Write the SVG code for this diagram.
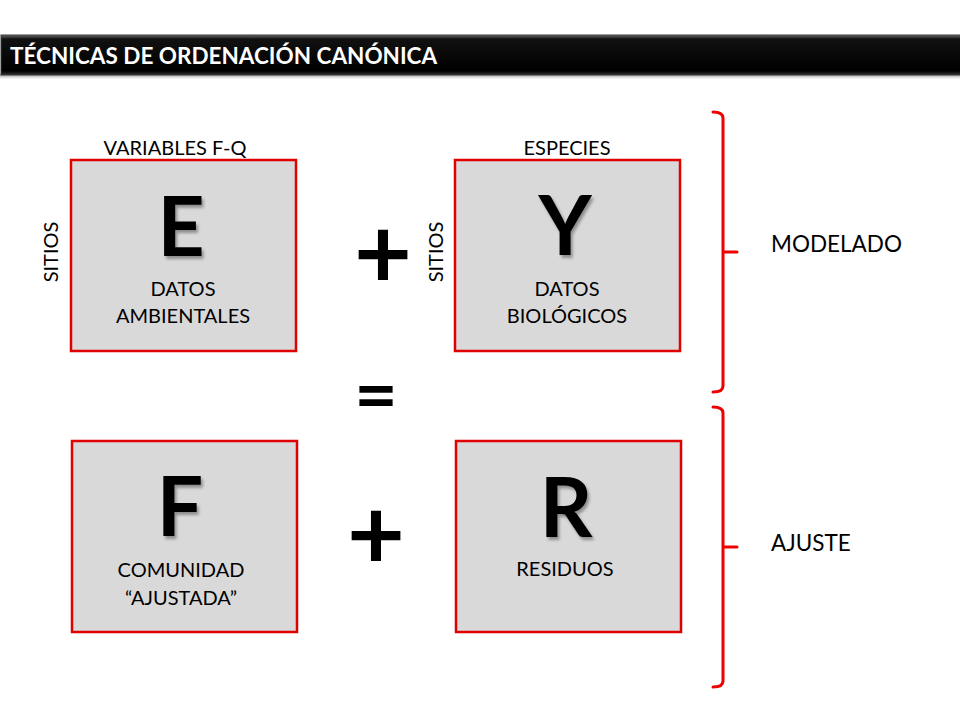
<svg xmlns="http://www.w3.org/2000/svg" width="960" height="720" viewBox="0 0 960 720">
  <defs>
    <filter id="shadow" x="-20%" y="-20%" width="150%" height="150%">
      <feDropShadow dx="2" dy="3" stdDeviation="1.5" flood-color="#000" flood-opacity="0.35"/>
    </filter>
    <linearGradient id="barEdge" x1="0" y1="0" x2="0" y2="1">
      <stop offset="0" stop-color="#6a6a6a"/>
      <stop offset="0.1" stop-color="#111"/>
      <stop offset="0.9" stop-color="#000"/>
      <stop offset="1" stop-color="#333"/>
    </linearGradient>
    <linearGradient id="barShadow" x1="0" y1="0" x2="0" y2="1">
      <stop offset="0" stop-color="#999"/>
      <stop offset="1" stop-color="#fff"/>
    </linearGradient>
  </defs>
  <style>
    .box { fill: #d9d9d9; stroke: #e00000; stroke-width: 2.5; }
    .big { font-family: Lato, "Liberation Sans", sans-serif; font-weight: 700; font-size: 82px; fill: #000; text-anchor: middle; }
    .lbl { font-family: Lato, "Liberation Sans", sans-serif; font-size: 20px; fill: #000; text-anchor: middle; }
    .side { font-family: Lato, "Liberation Sans", sans-serif; font-size: 22.5px; fill: #000; }
    .op { font-family: Lato, "Liberation Sans", sans-serif; font-weight: 700; font-size: 100px; fill: #000; text-anchor: middle; }
    .eq { font-family: Lato, "Liberation Sans", sans-serif; font-weight: 700; font-size: 75px; fill: #000; text-anchor: middle; }
    .title { font-family: Lato, "Liberation Sans", sans-serif; font-weight: 700; font-size: 22.5px; fill: #fff; }
    .brace { fill: none; stroke: #ee0000; stroke-width: 3; stroke-linejoin: round; stroke-linecap: round; }
  </style>

  <rect width="960" height="720" fill="#fff"/>

  <g id="title-bar">
    <rect x="0" y="74" width="962" height="5" fill="url(#barShadow)"/>
    <rect x="1" y="35" width="962" height="40" fill="url(#barEdge)" stroke="#3a3a3a" stroke-width="1"/>
    <text class="title" x="10" y="64">TÉCNICAS DE ORDENACIÓN CANÓNICA</text>
  </g>

  <g id="node-E">
    <text class="lbl" x="175" y="155">VARIABLES F-Q</text>
    <text class="lbl" transform="translate(58,252) rotate(-90)">SITIOS</text>
    <rect class="box" x="71" y="160" width="225" height="191"/>
    <text class="big" x="181" y="256" filter="url(#shadow)">E</text>
    <text class="lbl" x="183" y="296">DATOS</text>
    <text class="lbl" x="183" y="323">AMBIENTALES</text>
  </g>

  <g id="node-Y">
    <text class="lbl" x="567" y="155">ESPECIES</text>
    <text class="lbl" transform="translate(443,252) rotate(-90)">SITIOS</text>
    <rect class="box" x="455" y="160" width="225" height="191"/>
    <text class="big" x="565" y="255" filter="url(#shadow)">Y</text>
    <text class="lbl" x="567" y="296">DATOS</text>
    <text class="lbl" x="567" y="323">BIOLÓGICOS</text>
  </g>

  <g id="node-F">
    <rect class="box" x="72" y="441" width="225" height="191"/>
    <text class="big" x="180" y="536" filter="url(#shadow)">F</text>
    <text class="lbl" x="181" y="577">COMUNIDAD</text>
    <text class="lbl" x="181" y="605">“AJUSTADA”</text>
  </g>

  <g id="node-R">
    <rect class="box" x="456" y="441" width="225" height="191"/>
    <text class="big" x="566" y="537" filter="url(#shadow)">R</text>
    <text class="lbl" x="565" y="576">RESIDUOS</text>
  </g>

  <g id="operators">
    <text class="op" x="383" y="288">+</text>
    <text class="eq" x="376" y="421">=</text>
    <text class="op" x="376" y="569">+</text>
  </g>

  <g id="connectors">
    <path class="brace" d="M713,112 Q723,112 723,118 L723,252 M723,252 L737,252 M723,252 L723,386 Q723,392 713,392"/>
    <path class="brace" d="M713,407 Q723,407 723,413 L723,547 M723,547 L737,547 M723,547 L723,681 Q723,687 713,687"/>
  </g>

  <g id="labels">
    <text class="side" x="771" y="252">MODELADO</text>
    <text class="side" x="771" y="551">AJUSTE</text>
  </g>
</svg>
